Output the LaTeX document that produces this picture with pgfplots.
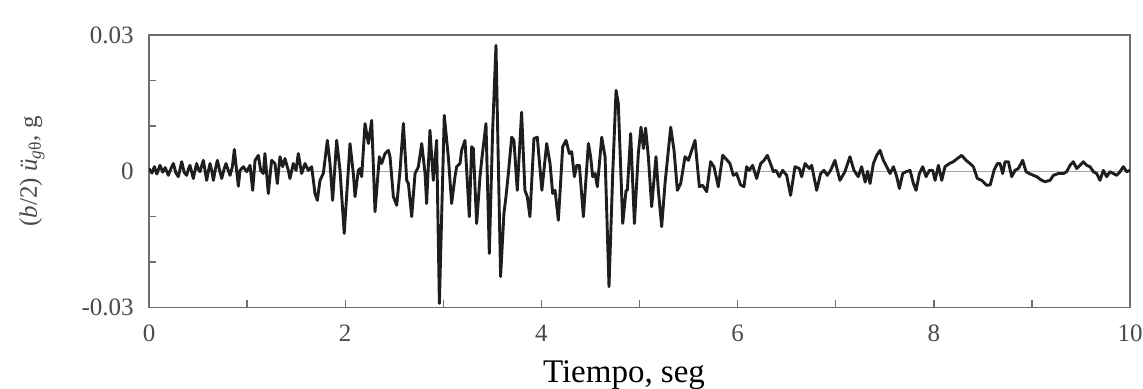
\documentclass[border=0pt]{standalone}
\usepackage{fontspec}
\setmainfont{Liberation Serif}
\usepackage{pgfplots}
\pgfplotsset{compat=1.18}
\definecolor{framec}{HTML}{6E6E6E}
\definecolor{tickc}{HTML}{4A4A4A}
\definecolor{sigc}{HTML}{1E1E1E}
\begin{document}
\begin{tikzpicture}
\useasboundingbox (-74.5pt,-40.75pt) rectangle (497pt,153.75pt);
\begin{axis}[
  at={(0,0)}, anchor=south west,
  scale only axis, width=490.5pt, height=136.25pt,
  xmin=0, xmax=10, ymin=-0.03, ymax=0.03,
  xtick={0,1,2,3,4,5,6,7,8,9,10},
  xticklabels={0,,2,,4,,6,,8,,10},
  ytick={-0.03,-0.02,-0.01,0,0.01,0.02,0.03},
  yticklabels={-0.03,,,0,,,0.03},
  scaled y ticks=false,
  tick align=inside, major tick length=3.5pt,
  xtick pos=bottom, ytick pos=left,
  axis line style={framec, line width=0.7pt},
  every tick/.style={framec, line width=0.7pt},
  tick label style={font=\fontsize{12.5}{15}\selectfont, text=tickc},
  yticklabel style={inner sep=0pt, anchor=east, xshift=-7.5pt},
  xticklabel style={inner sep=0pt, anchor=north, yshift=-8.5pt},
  every axis x label/.style={at={(axis description cs:0.5,0)}, anchor=base, xshift=-7.75pt, yshift=-37.75pt, font=\fontsize{16.5}{19}\selectfont},
  every axis y label/.style={at={(axis description cs:0,0.5)}, xshift=-52pt, rotate=90, anchor=south, inner sep=0pt, font=\fontsize{12.5}{15}\selectfont, text=tickc},
  xlabel={Tiempo, seg},
  ylabel={(\textit{b}/2) \textit{ü}\textsubscript{\textit{g}θ}, g},
]
\addplot[gray!70, line width=0.5pt] coordinates {(0,0) (10,0)};
\addplot[sigc, line width=1.45pt, line join=round] table {
0.000 0.0006
0.030 -0.0004
0.055 0.0010
0.080 -0.0006
0.112 0.0013
0.140 -0.0002
0.165 0.0008
0.197 -0.0009
0.222 0.0005
0.248 0.0017
0.275 -0.0004
0.299 -0.0012
0.318 0.0006
0.333 0.0021
0.360 -0.0003
0.384 -0.0009
0.400 0.0004
0.418 0.0013
0.435 -0.0002
0.452 -0.0016
0.470 0.0003
0.486 0.0017
0.503 0.0004
0.520 -0.0001
0.537 0.0012
0.554 0.0024
0.571 0.0002
0.588 -0.0020
0.605 0.0000
0.622 0.0017
0.640 0.0001
0.656 -0.0020
0.677 0.0005
0.697 0.0024
0.720 0.0002
0.741 -0.0016
0.763 0.0003
0.785 0.0017
0.805 0.0004
0.826 -0.0009
0.850 0.0010
0.870 0.0048
0.890 0.0008
0.911 -0.0033
0.928 0.0002
0.962 0.0010
0.996 -0.0001
1.030 0.0013
1.057 -0.0042
1.081 0.0024
1.115 0.0035
1.138 0.0002
1.165 -0.0005
1.182 0.0039
1.216 -0.0049
1.250 0.0024
1.284 0.0017
1.308 -0.0027
1.335 0.0032
1.363 0.0010
1.386 0.0028
1.420 0.0002
1.437 -0.0016
1.471 0.0017
1.499 0.0002
1.522 0.0039
1.556 -0.0005
1.590 0.0017
1.624 0.0002
1.658 0.0010
1.692 -0.0049
1.716 -0.0064
1.743 -0.0020
1.777 -0.0005
1.818 0.0068
1.845 0.0017
1.872 -0.0064
1.913 0.0068
1.947 0.0002
1.990 -0.0137
2.049 0.0061
2.083 -0.0005
2.100 -0.0056
2.134 0.0002
2.151 0.0006
2.168 -0.0012
2.202 0.0105
2.236 0.0061
2.270 0.0112
2.304 -0.0089
2.348 0.0032
2.372 0.0017
2.406 0.0039
2.440 0.0046
2.457 0.0032
2.491 -0.0056
2.525 -0.0075
2.559 0.0002
2.593 0.0105
2.627 -0.0020
2.644 -0.0027
2.678 -0.0100
2.712 -0.0005
2.746 0.0010
2.780 0.0061
2.814 -0.0005
2.830 -0.0071
2.864 0.0090
2.898 -0.0020
2.932 0.0068
2.960 -0.0291
3.010 0.0123
3.051 0.0032
3.085 -0.0071
3.119 -0.0012
3.136 0.0010
3.170 0.0017
3.187 0.0046
3.221 0.0068
3.265 -0.0100
3.289 0.0054
3.306 0.0050
3.340 -0.0115
3.374 -0.0012
3.391 0.0024
3.435 0.0105
3.469 -0.0181
3.503 0.0090
3.537 0.0277
3.584 -0.0232
3.618 -0.0093
3.639 -0.0056
3.663 -0.0005
3.697 0.0075
3.720 0.0068
3.754 -0.0042
3.798 0.0130
3.832 -0.0042
3.856 -0.0056
3.883 -0.0100
3.924 0.0072
3.958 0.0075
4.005 -0.0042
4.054 0.0061
4.088 0.0017
4.115 -0.0049
4.139 -0.0042
4.173 -0.0108
4.217 0.0054
4.251 0.0068
4.285 0.0039
4.309 0.0043
4.336 -0.0012
4.360 0.0013
4.387 0.0013
4.428 -0.0100
4.479 0.0061
4.502 0.0032
4.523 -0.0012
4.547 -0.0005
4.570 -0.0034
4.615 0.0075
4.649 0.0032
4.689 -0.0254
4.727 -0.0005
4.761 0.0178
4.784 0.0149
4.829 -0.0115
4.863 -0.0042
4.876 -0.0042
4.910 0.0083
4.948 -0.0115
4.988 0.0039
5.015 0.0097
5.040 0.0050
5.062 0.0095
5.090 0.0032
5.124 -0.0078
5.168 0.0032
5.192 -0.0042
5.226 -0.0122
5.260 -0.0027
5.318 0.0097
5.352 0.0046
5.386 -0.0042
5.420 -0.0027
5.464 0.0032
5.498 0.0024
5.566 0.0068
5.610 -0.0034
5.644 -0.0031
5.685 -0.0045
5.725 0.0021
5.759 0.0010
5.803 -0.0034
5.848 0.0035
5.895 0.0024
5.922 0.0017
5.956 -0.0009
5.990 -0.0005
6.030 -0.0030
6.065 -0.0034
6.092 0.0010
6.119 0.0002
6.153 0.0013
6.194 -0.0016
6.235 0.0017
6.269 0.0024
6.303 0.0035
6.347 0.0010
6.364 -0.0001
6.391 0.0002
6.425 -0.0012
6.459 0.0002
6.500 -0.0009
6.540 -0.0053
6.585 0.0010
6.629 0.0006
6.653 -0.0012
6.687 0.0017
6.731 0.0006
6.755 0.0013
6.806 -0.0042
6.846 -0.0005
6.880 0.0002
6.914 -0.0009
6.948 0.0002
6.992 0.0024
7.043 -0.0020
7.094 -0.0001
7.145 0.0032
7.186 0.0002
7.230 -0.0012
7.264 0.0010
7.300 -0.0024
7.325 0.0000
7.350 -0.0027
7.384 0.0017
7.418 0.0035
7.452 0.0046
7.486 0.0024
7.520 0.0010
7.554 -0.0005
7.588 0.0010
7.622 -0.0012
7.649 -0.0038
7.683 -0.0005
7.717 -0.0001
7.758 0.0002
7.792 -0.0027
7.819 -0.0042
7.853 -0.0005
7.887 0.0010
7.921 -0.0012
7.955 0.0002
7.989 0.0002
8.013 -0.0020
8.047 0.0013
8.081 -0.0020
8.114 0.0010
8.159 0.0017
8.199 0.0021
8.240 0.0028
8.284 0.0035
8.329 0.0024
8.369 0.0017
8.403 0.0010
8.444 -0.0016
8.488 -0.0020
8.539 -0.0031
8.575 -0.0030
8.614 0.0002
8.648 0.0017
8.675 0.0017
8.702 -0.0005
8.726 0.0021
8.760 0.0021
8.794 -0.0012
8.828 0.0002
8.862 0.0006
8.906 0.0024
8.940 -0.0001
8.974 -0.0005
9.015 -0.0009
9.049 -0.0012
9.100 -0.0020
9.134 -0.0023
9.185 -0.0020
9.219 -0.0009
9.270 -0.0005
9.321 -0.0005
9.355 -0.0001
9.388 0.0013
9.422 0.0021
9.456 0.0006
9.490 0.0013
9.524 0.0021
9.558 0.0013
9.592 0.0010
9.626 -0.0001
9.660 -0.0005
9.694 -0.0020
9.728 0.0002
9.762 -0.0012
9.796 -0.0001
9.830 -0.0005
9.864 -0.0009
9.898 -0.0001
9.932 0.0010
9.966 -0.0001
10.000 0.0002
};
\end{axis}
\end{tikzpicture}
\end{document}
